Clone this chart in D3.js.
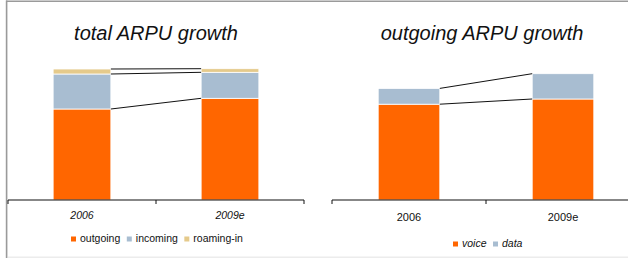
<!DOCTYPE html>
<html>
<head>
<meta charset="utf-8">
<script src="https://cdn.jsdelivr.net/npm/d3@7"></script>
<style>
  body { margin: 0; background: #fff; }
  text { font-family: Helvetica, Arial, "Liberation Sans", sans-serif; fill: #111; }
</style>
</head>
<body>
<script>
// values (same arbitrary unit for both panels)
var years = ["2006", "2009e"];
var outgoing = [91, 101.7];
var incoming = [35, 26];
var roamingIn = [5, 3.6];
var voice = [95.8, 101];
var dataArpu = [15.8, 25.3];

var width = 628, height = 258;

var svg = d3.select("body").append("svg")
    .attr("width", width)
    .attr("height", height);

// frame
svg.append("rect").attr("x", 8).attr("y", 256.5).attr("width", 620).attr("height", 2).attr("fill", "#ececec");
svg.append("line").attr("x1", 6).attr("x2", 628).attr("y1", 1.2).attr("y2", 1.2)
    .attr("stroke", "#9a9a9a").attr("stroke-width", 1.6);
svg.append("line").attr("x1", 6.6).attr("x2", 6.6).attr("y1", 0.5).attr("y2", 258)
    .attr("stroke", "#9a9a9a").attr("stroke-width", 1.6);

var y = d3.scaleLinear().domain([0, 140]).range([200, 60]);

function drawPanel(opts) {
    var g = svg.append("g");
    var x = d3.scalePoint().domain(years).range(opts.range).padding(0.5);
    var step = x.step(), bw = step * opts.barRatio;

    var rows = years.map(function(yr, i) {
        var r = { year: yr };
        opts.keys.forEach(function(k, j) { r[k] = opts.series[j][i]; });
        return r;
    });
    var stacked = d3.stack().keys(opts.keys)(rows);

    g.selectAll("g.layer").data(stacked).enter().append("g")
        .attr("fill", function(d, i) { return opts.colors[i]; })
      .selectAll("rect").data(function(d) { return d; }).enter().append("rect")
        .attr("x", function(d) { return x(d.data.year) - bw / 2; })
        .attr("width", bw)
        .attr("y", function(d) { return y(d[1]); })
        .attr("height", function(d) { return y(d[0]) - y(d[1]); })
        .attr("stroke", "#fff")
        .attr("stroke-width", 0.8);

    // connector lines between stack tops
    g.selectAll("line.conn").data(stacked).enter().append("line")
        .attr("x1", x(years[0]) + bw / 2)
        .attr("x2", x(years[1]) - bw / 2)
        .attr("y1", function(d) { return y(d[0][1]); })
        .attr("y2", function(d) { return y(d[1][1]); })
        .attr("stroke", "#111")
        .attr("stroke-width", 1);

    // axis
    var x0 = opts.range[0], x1 = opts.range[1];
    g.append("line").attr("x1", x0).attr("x2", x1).attr("y1", y(0)).attr("y2", y(0))
        .attr("stroke", "#111").attr("stroke-width", 1.2);
    var edges = [x0].concat(years.map(function(c) { return x(c) + step / 2; }));
    g.selectAll("line.tick").data(edges).enter().append("line")
        .attr("x1", function(d) { return d; }).attr("x2", function(d) { return d; })
        .attr("y1", y(0)).attr("y2", y(0) + 4)
        .attr("stroke", "#111").attr("stroke-width", 1);

    g.selectAll("text.xl").data(years).enter().append("text")
        .attr("x", function(d) { return x(d); })
        .attr("y", opts.labelY)
        .attr("text-anchor", "middle")
        .attr("font-size", opts.labelSize)
        .attr("font-style", opts.labelItalic ? "italic" : "normal")
        .text(function(d) { return d; });

    g.append("text")
        .attr("x", opts.titleX)
        .attr("y", 39.5)
        .attr("text-anchor", "middle")
        .attr("font-size", 20)
        .attr("font-style", "italic")
        .text(opts.title);

    // legend
    var lx = opts.legendX;
    opts.names.forEach(function(n, i) {
        g.append("rect").attr("x", lx).attr("y", opts.legendY - 5)
            .attr("width", 5).attr("height", 5).attr("fill", opts.colors[i]);
        var t = g.append("text").attr("x", lx + 9).attr("y", opts.legendY)
            .attr("font-size", 10.5)
            .attr("font-style", opts.legendItalic ? "italic" : "normal")
            .text(n);
        lx += 9 + t.node().getComputedTextLength() + 6.5;
    });
}

drawPanel({
    range: [8, 304], barRatio: 0.39,
    keys: ["outgoing", "incoming", "roaming"],
    names: ["outgoing", "incoming", "roaming-in"],
    series: [outgoing, incoming, roamingIn],
    colors: ["#ff6600", "#a8bdd1", "#e5ca8b"],
    title: "total ARPU growth", titleX: 156,
    labelY: 219, labelSize: 10.5, labelItalic: true,
    legendX: 71, legendY: 241.5, legendItalic: false
});

drawPanel({
    range: [332, 640], barRatio: 0.4,
    keys: ["voice", "data"],
    names: ["voice", "data"],
    series: [voice, dataArpu],
    colors: ["#ff6600", "#a8bdd1"],
    title: "outgoing ARPU growth", titleX: 482,
    labelY: 221, labelSize: 11, labelItalic: false,
    legendX: 453, legendY: 246.5, legendItalic: true
});
</script>
</body>
</html>
